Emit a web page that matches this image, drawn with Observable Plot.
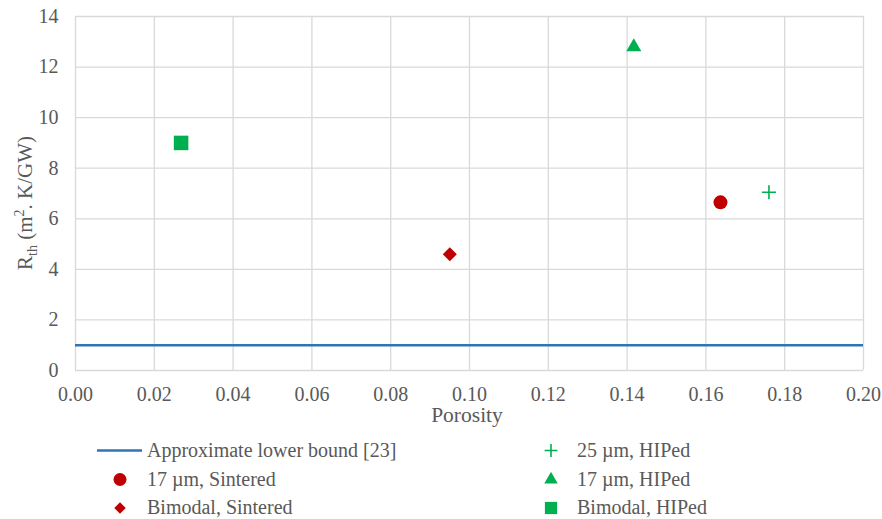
<!DOCTYPE html>
<html><head><meta charset="utf-8">
<script src="https://cdn.jsdelivr.net/npm/d3@7"></script>
<script src="https://cdn.jsdelivr.net/npm/@observablehq/plot@0.6"></script>
<style>
body{margin:0;background:#fff;}
#wrap{position:relative;width:882px;height:519px;font-family:"Liberation Serif","Times New Roman",serif;color:#595959;overflow:hidden;}
#wrap svg{display:block;}
.leg{position:absolute;font-size:20px;line-height:24px;height:24px;white-space:nowrap;color:#595959;}
#legsym{position:absolute;left:0;top:0;width:882px;height:519px;pointer-events:none;}
</style></head><body><div id="wrap"></div>
<script>
// ---- data ----
const seriesNames = ["17 µm, Sintered", "Bimodal, Sintered", "25 µm, HIPed", "17 µm, HIPed", "Bimodal, HIPed"];
const porosity = [0.1637, 0.095, 0.176, 0.1417, 0.0268];
const rth = [6.65, 4.6, 7.05, 12.8, 9.0];
const lowerBoundName = "Approximate lower bound [23]";
const lowerBound = [1];
const xTicks = [0, 0.02, 0.04, 0.06, 0.08, 0.10, 0.12, 0.14, 0.16, 0.18, 0.20];
const yTicks = [0, 2, 4, 6, 8, 10, 12, 14];
const xTitle = "Porosity";

// ---- styles ----
const RED = "#C00000", GREEN = "#00B050", BLUE = "#2E75B6", GRID = "#d9d9d9", TXT = "#595959";
const styles = {
  "17 µm, Sintered":   {color: RED,   symbol: "circle",   d3s: d3.symbolCircle,   r: 7.0, lr: 6.5, stroke: false},
  "Bimodal, Sintered": {color: RED,   symbol: "diamond2", d3s: d3.symbolDiamond2, r: 6.3, lr: 5.2, stroke: false},
  "25 µm, HIPed":      {color: GREEN, symbol: "plus",     d3s: d3.symbolPlus,     r: 4.6, lr: 4.2, stroke: true},
  "17 µm, HIPed":      {color: GREEN, symbol: "triangle", d3s: d3.symbolTriangle, r: 5.6, lr: 5.0, stroke: false},
  "Bimodal, HIPed":    {color: GREEN, symbol: "square",   d3s: d3.symbolSquare,   r: 8.2, lr: 6.9, stroke: false}
};

const data = seriesNames.map((name, i) => ({name, x: porosity[i], y: rth[i]}));

const W = 882, H = 430, ML = 75, MR = 19, MT = 16, MB = 60;

const dotMarks = seriesNames.map(name => {
  const s = styles[name];
  return Plot.dot(data.filter(d => d.name === name), s.stroke
    ? {x: "x", y: "y", symbol: s.symbol, r: s.r, stroke: s.color, strokeWidth: 1.6, fill: "none"}
    : {x: "x", y: "y", symbol: s.symbol, r: s.r, fill: s.color, stroke: "none"});
});

const plot = Plot.plot({
  width: W, height: H,
  marginLeft: ML, marginRight: MR, marginTop: MT, marginBottom: MB,
  style: {fontFamily: '"Liberation Serif","Times New Roman",serif', fontSize: "20px", color: TXT, background: "#fff", overflow: "visible"},
  x: {domain: [0, 0.2]},
  y: {domain: [0, 14]},
  marks: [
    Plot.ruleX(xTicks, {stroke: GRID, strokeWidth: 1.3}),
    Plot.ruleY(yTicks, {stroke: GRID, strokeWidth: 1.3}),
    Plot.ruleY(lowerBound, {stroke: BLUE, strokeWidth: 2.5}),
    ...dotMarks,
    Plot.axisX({ticks: xTicks, tickFormat: d3.format(".2f"), tickSize: 0, tickPadding: 16, label: null, fontSize: 20}),
    Plot.axisY({ticks: yTicks, tickFormat: d3.format("d"), tickSize: 0, tickPadding: 17, label: null, fontSize: 20})
  ]
});

const wrap = document.getElementById("wrap");
wrap.appendChild(plot);

// axis titles
const svg = d3.select(plot);
svg.append("text")
  .attr("x", (ML + W - MR) / 2 - 2).attr("y", 422)
  .attr("text-anchor", "middle").attr("fill", TXT).attr("font-size", 21.5)
  .text(xTitle);

const yl = svg.append("text")
  .attr("transform", "translate(32,203) rotate(-90)")
  .attr("text-anchor", "middle").attr("fill", TXT).attr("font-size", 21);
yl.append("tspan").text("R");
yl.append("tspan").attr("font-size", 14).attr("dy", 5).text("th");
yl.append("tspan").attr("dy", -5).text(" (m");
yl.append("tspan").attr("font-size", 14).attr("dy", -8).text("2");
yl.append("tspan").attr("dy", 8).text(". K/GW)");

// ---- legend (below the chart) ----
const rows = [450.5, 479.5, 508];
const legendItems = [
  {name: lowerBoundName, line: true, mx: 120, tx: 147, y: rows[0]},
  {name: seriesNames[0], mx: 120, tx: 147, y: rows[1]},
  {name: seriesNames[1], mx: 120, tx: 147, y: rows[2]},
  {name: seriesNames[2], mx: 551, tx: 577, y: rows[0]},
  {name: seriesNames[3], mx: 551, tx: 577, y: rows[1]},
  {name: seriesNames[4], mx: 551, tx: 577, y: rows[2]}
];
const legSvg = d3.select(wrap).append("svg").attr("id", "legsym").attr("width", 882).attr("height", 519);
for (const it of legendItems) {
  const div = document.createElement("div");
  div.className = "leg";
  div.style.left = it.tx + "px";
  div.style.top = (it.y - 13) + "px";
  div.textContent = it.name;
  wrap.appendChild(div);
  if (it.line) {
    legSvg.append("line").attr("x1", 97).attr("x2", 142).attr("y1", it.y).attr("y2", it.y)
      .attr("stroke", BLUE).attr("stroke-width", 2.5);
  } else {
    const s = styles[it.name];
    const p = legSvg.append("path")
      .attr("d", d3.symbol(s.d3s, Math.PI * s.lr * s.lr)())
      .attr("transform", "translate(" + it.mx + "," + it.y + ")");
    if (s.stroke) p.attr("fill", "none").attr("stroke", s.color).attr("stroke-width", 1.6);
    else p.attr("fill", s.color);
  }
}
</script></body></html>
